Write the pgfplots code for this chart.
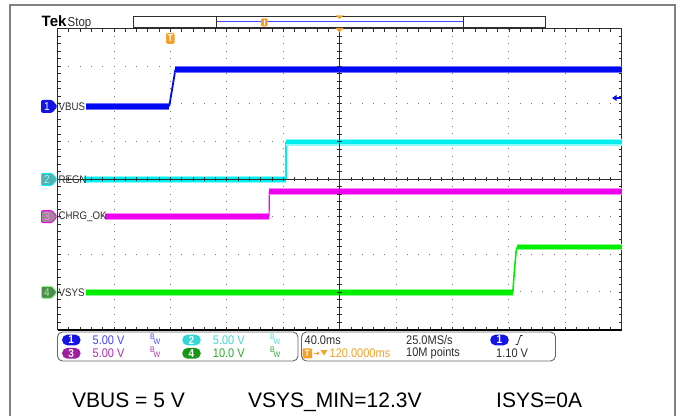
\documentclass[border=0pt]{standalone}
\usepackage{pgfplots}
\pgfplotsset{compat=1.18}
\usepackage{fontspec}
\setmainfont{Liberation Sans}
\newfontfamily\tekfont{Liberation Sans}[FakeStretch=0.88]
\newcommand\sfz[1]{\tekfont\fontsize{#1}{#1}\selectfont}
\definecolor{framegray}{RGB}{128,128,128}
\definecolor{gridc}{RGB}{120,120,120}
\definecolor{axc}{RGB}{45,45,45}
\definecolor{tr1}{RGB}{0,10,240}
\definecolor{tr1l}{RGB}{110,110,255}
\definecolor{tr2}{RGB}{0,240,240}
\definecolor{tr2l}{RGB}{140,250,250}
\definecolor{tr3}{RGB}{240,0,240}
\definecolor{tr3l}{RGB}{250,130,250}
\definecolor{tr4}{RGB}{0,238,0}
\definecolor{tr4l}{RGB}{140,250,140}
\definecolor{orng}{RGB}{245,160,40}
\definecolor{txtc}{RGB}{45,45,45}
\definecolor{c1o}{RGB}{20,20,230}
\definecolor{c1t}{RGB}{70,70,255}
\definecolor{c2o}{RGB}{50,215,215}
\definecolor{c2t}{RGB}{70,215,215}
\definecolor{c3o}{RGB}{160,30,160}
\definecolor{c3t}{RGB}{175,45,175}
\definecolor{c4o}{RGB}{25,150,25}
\definecolor{c4t}{RGB}{45,170,45}
\newcommand\chtag[5]{%
  \draw[fill=#2, draw=#3, line width=0.9pt, rounded corners=1.2pt] (41.5,#1-6) -- (52,#1-6) -- (57,#1) -- (52,#1+6) -- (41.5,#1+6) -- cycle;
  \node[text=#4, inner sep=0, font=\sfz{11.5}] at (47,#1) {#5};}
\newcommand\choval[4]{% x y fill number
  \fill[#3, rounded corners=5.4pt] (#1-9.3,#2-5.4) rectangle (#1+9.3,#2+5.4);
  \node[text=white, inner sep=0, font=\sfz{11.5}\bfseries] at (#1,#2) {#4};}
\newcommand\bw[3]{% x y color
  \node[text=#3, inner sep=0, font=\sfz{8}, anchor=base west] at (#1,#2+1) {B};
  \node[text=#3, inner sep=0, font=\sfz{8}, anchor=base west] at (#1+3.5,#2-4) {W};}
\begin{document}
\begin{tikzpicture}[x=1pt,y=1pt]
\useasboundingbox (0,0) rectangle (676,415);
% outer frame
\draw[framegray, line width=2pt] (10,-3) -- (10,410) -- (674.5,410) -- (674.5,-3);
\begin{axis}[
  at={(57.5pt,85.5pt)}, anchor=south west,
  width=564.2pt, height=301pt, scale only axis,
  xmin=0, xmax=10, ymin=0, ymax=8,
  xtick={0,...,10}, ytick={0,...,8},
  minor x tick num=4, minor y tick num=4,
  xticklabels={}, yticklabels={},
  xmajorgrids, ymajorgrids,
  major x grid style={gridc, line width=0.8pt, dash pattern=on 0.8pt off 6.725pt, dash phase=0.4pt},
  major y grid style={gridc, line width=0.8pt, dash pattern=on 0.8pt off 10.484pt, dash phase=0.4pt},
  tick align=inside, major tick length=3pt, minor tick length=3pt,
  every tick/.style={axc, line width=0.6pt},
  axis line style={axc, line width=0.9pt},
  clip=false,
]
% VBUS
\addplot[no markers, tr1l, line width=7pt] coordinates {(0.50,5.93) (1.98,5.93)};
\addplot[no markers, tr1, line width=5pt] coordinates {(0.50,5.93) (1.98,5.93)};
\addplot[no markers, tr1, line width=1.8pt] coordinates {(1.98,5.93) (2.09,6.91)};
\addplot[no markers, tr1l, line width=7pt] coordinates {(2.09,6.91) (10,6.91)};
\addplot[no markers, tr1, line width=5pt] coordinates {(2.09,6.91) (10,6.91)};
% REGN
\addplot[no markers, tr2l, line width=7pt] coordinates {(0.47,3.99) (4.05,3.99)};
\addplot[no markers, tr2, line width=4.5pt] coordinates {(0.47,3.99) (4.05,3.99)};
\addplot[no markers, tr2, line width=1.2pt] coordinates {(4.05,3.99) (4.05,4.98)};
\addplot[no markers, tr2l, line width=7pt] coordinates {(4.05,4.98) (10,4.98)};
\addplot[no markers, tr2, line width=4.5pt] coordinates {(4.05,4.98) (10,4.98)};
% CHRG_OK
\addplot[no markers, tr3l, line width=6.5pt] coordinates {(0.84,3.00) (3.75,3.00)};
\addplot[no markers, tr3, line width=4.5pt] coordinates {(0.84,3.00) (3.75,3.00)};
\addplot[no markers, tr3, line width=1.2pt] coordinates {(3.75,3.00) (3.755,3.67)};
\addplot[no markers, tr3l, line width=6.5pt] coordinates {(3.755,3.67) (10,3.67)};
\addplot[no markers, tr3, line width=4.5pt] coordinates {(3.755,3.67) (10,3.67)};
% VSYS
\addplot[no markers, tr4l, line width=6.5pt] coordinates {(0.505,0.99) (8.07,0.99)};
\addplot[no markers, tr4, line width=4.5pt] coordinates {(0.505,0.99) (8.07,0.99)};
\addplot[no markers, tr4, line width=1.6pt] coordinates {(8.07,0.99) (8.10,1.6) (8.13,2.1) (8.15,2.19)};
\addplot[no markers, tr4l, line width=6.5pt] coordinates {(8.15,2.19) (10,2.19)};
\addplot[no markers, tr4, line width=4.5pt] coordinates {(8.15,2.19) (10,2.19)};
\end{axis}
% center cross lines with ticks
\draw[axc, line width=0.9pt] (57.5,236) -- (621.7,236);
\draw[axc, line width=0.9pt] (339.6,85.5) -- (339.6,386.5);
\foreach \i in {0,...,50} \draw[axc, line width=0.6pt] (57.5+\i*11.284,233.7) -- ++(0,4.6);
\foreach \j in {0,...,40} \draw[axc, line width=0.6pt] (337.3,85.5+\j*7.525) -- ++(4.6,0);
\draw[black, line width=1.6pt] (57.5,85.3) -- (621.7,85.3);
% channel tags and labels
\chtag{308.6}{c1o}{c1o}{white}{1}
\chtag{235.6}{c2o!55!gray}{tr2}{tr2l}{2}
\chtag{198.4}{gray!85!magenta}{tr3}{tr3l}{3}
\chtag{122.7}{c4o!45!gray}{tr4l}{tr4l}{4}
\node[anchor=west, inner sep=0, text=txtc, font=\sfz{11}] at (58.5,308.6) {VBUS};
\node[anchor=west, inner sep=0, text=txtc, font=\sfz{11}] at (58.5,235.6) {REGN};
\node[anchor=west, inner sep=0, text=txtc, font=\sfz{11}] at (58.5,198.4) {CHRG\_OK};
\node[anchor=west, inner sep=0, text=txtc, font=\sfz{11}] at (58.5,122.7) {VSYS};
% trigger level arrow right
\fill[tr1] (612,317) -- (616.5,320) -- (616.5,314) -- cycle;
\draw[tr1, line width=1.5pt] (616,317) -- (621,317);
% top: Tek Stop and record bar
\node[anchor=base west, inner sep=0, font=\fontsize{15}{15}\selectfont\bfseries] at (41.5,388) {Tek};
\node[anchor=base west, inner sep=0, text=txtc, font=\sfz{13}] at (67.5,388) {Stop};
\draw[axc, line width=0.8pt] (133,387.3) rectangle (545.3,399);
\draw[axc, line width=0.8pt] (216,387.3) -- (216,399);
\draw[axc, line width=1.3pt] (463.7,387.3) -- (463.7,399);
\draw[c1t, line width=0.8pt] (217,393.7) -- (463,393.7);
\fill[orng, rounded corners=1pt] (261,388.5) rectangle (267.5,396.5);
\draw[white, line width=0.6pt] (264.2,390) -- (264.2,395);
\fill[orng] (335.5,399.5) -- (343.5,399.5) -- (339.5,396) -- cycle;
\fill[orng] (335.5,387) -- (343.5,387) -- (339.5,382.5) -- cycle;
% trigger position T
\fill[orng, rounded corners=1.5pt] (166,371) rectangle (174.7,382);
\node[text=white, inner sep=0, font=\sfz{10}\bfseries] at (170.3,376.5) {T};
% info boxes
\draw[framegray!80!black, line width=0.9pt, rounded corners=5pt] (57.5,54) rectangle (298,83);
\draw[framegray!80!black, line width=0.9pt, rounded corners=5pt] (301.5,54) rectangle (555.5,83);
\choval{71.3}{75}{c1o}{1}
\choval{71.3}{61.7}{c3o}{3}
\choval{191.5}{75}{c2o}{2}
\choval{191.5}{61.7}{c4o}{4}
\node[anchor=west, inner sep=0, text=c1t, font=\sfz{12.5}] at (92.5,75) {5.00 V};
\node[anchor=west, inner sep=0, text=c3t, font=\sfz{12.5}] at (92.5,61.7) {5.00 V};
\node[anchor=west, inner sep=0, text=c2t, font=\sfz{12.5}] at (212.7,75) {5.00 V};
\node[anchor=west, inner sep=0, text=c4t, font=\sfz{12.5}] at (212.7,61.7) {10.0 V};
\bw{150}{75}{c1t}
\bw{150}{61.7}{c3t}
\bw{270}{75}{c2t}
\bw{270}{61.7}{c4t}
\node[anchor=west, inner sep=0, text=txtc, font=\sfz{12.5}] at (304.5,75) {40.0ms};
\node[anchor=west, inner sep=0, text=txtc, font=\sfz{12.5}] at (406,75) {25.0MS/s};
\node[anchor=west, inner sep=0, text=txtc, font=\sfz{12.5}] at (406,61.7) {10M points};
\node[anchor=west, inner sep=0, text=txtc, font=\sfz{12.5}] at (496,61.7) {1.10 V};
\choval{499.5}{75}{c1o}{1}
\draw[txtc, line width=0.8pt] (515.5,70.5) -- (517.5,70.5) -- (520.5,79.5) -- (522.5,79.5);
\fill[orng, rounded corners=1pt] (302.5,56.7) rectangle (312,66.7);
\node[text=white, inner sep=0, font=\sfz{9}\bfseries] at (307.3,61.7) {T};
\draw[orng, line width=0.8pt] (313.5,61.7) -- (319,61.7);
\fill[orng] (319.5,61.7) -- (317,63.7) -- (317,59.7) -- cycle;
\fill[orng] (320.5,65) -- (327.5,65) -- (324,59.5) -- cycle;
\node[anchor=west, inner sep=0, text=orng, font=\sfz{12.5}] at (329.5,61.7) {120.0000ms};
% bottom annotation
\node[anchor=base west, inner sep=0, font=\fontsize{21}{21}\selectfont] at (72,8) {VBUS = 5 V};
\node[anchor=base west, inner sep=0, font=\fontsize{21}{21}\selectfont] at (248,8) {VSYS\_MIN=12.3V};
\node[anchor=base west, inner sep=0, font=\fontsize{21}{21}\selectfont] at (496,8) {ISYS=0A};
\end{tikzpicture}
\end{document}
